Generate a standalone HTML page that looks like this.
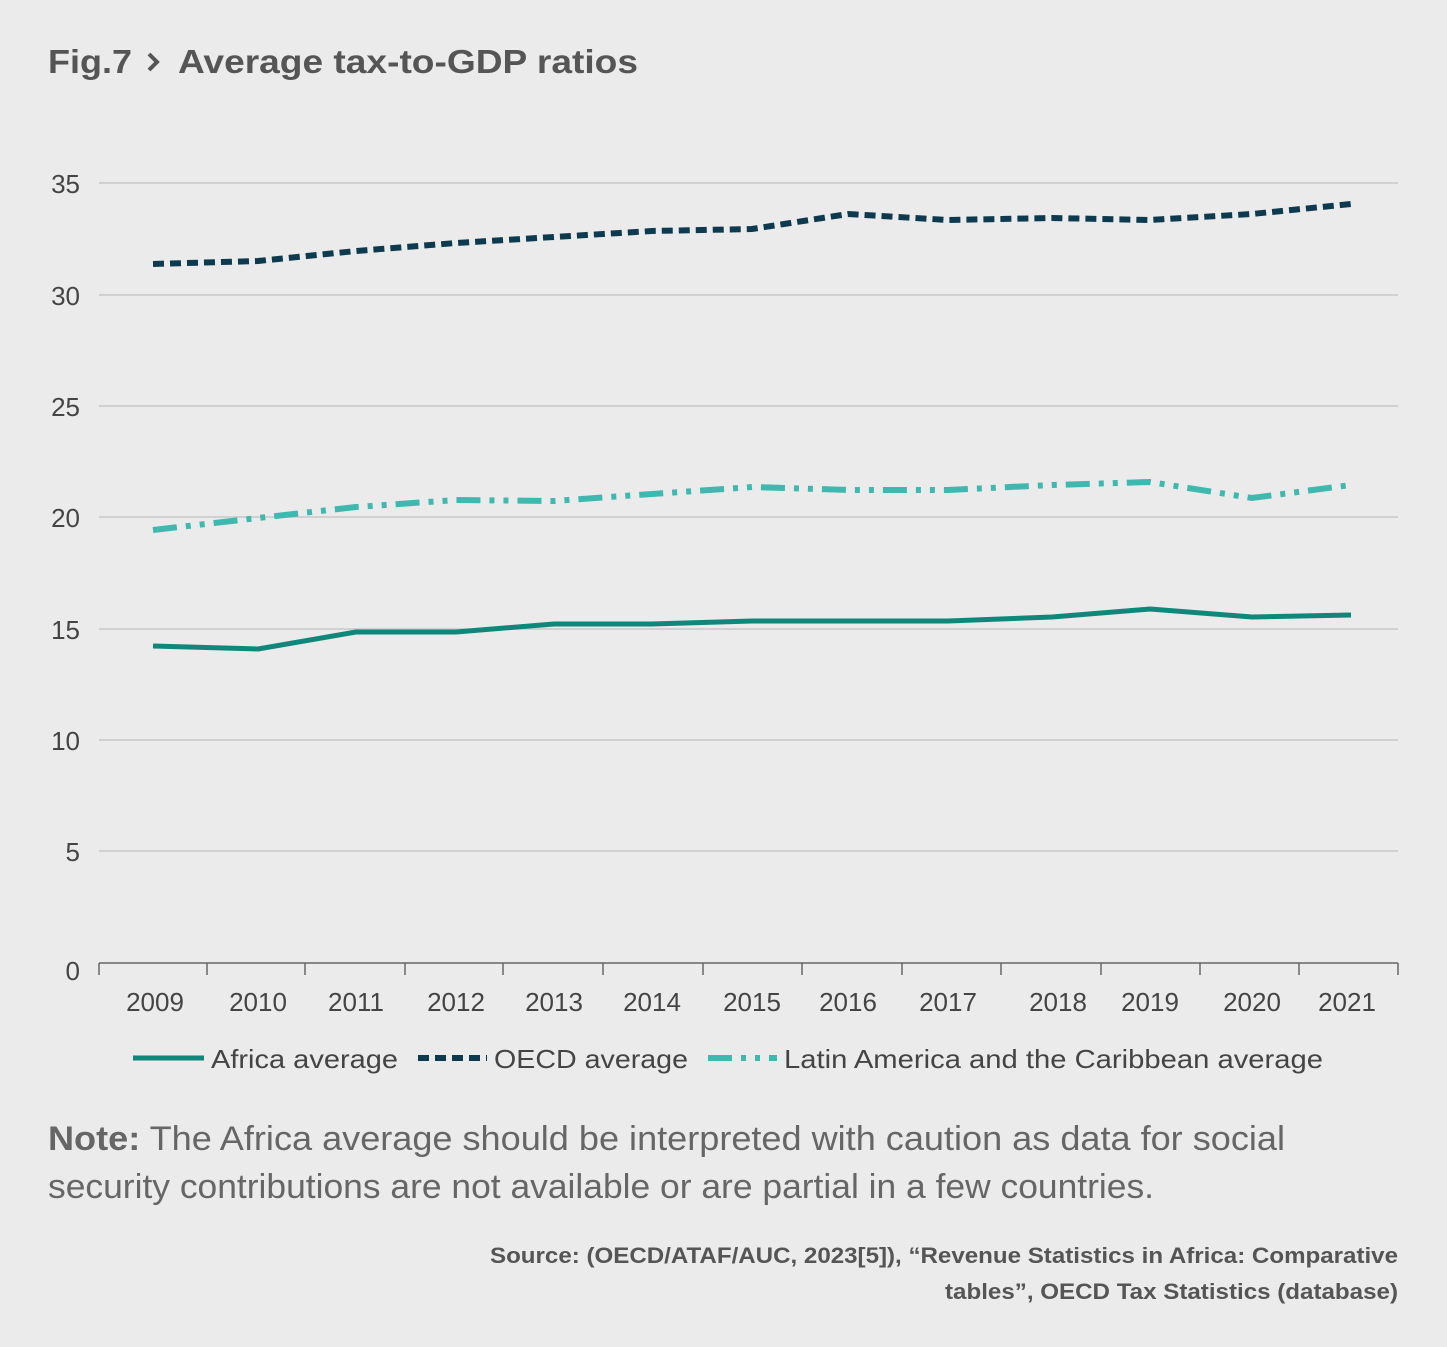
<!DOCTYPE html>
<html><head><meta charset="utf-8"><style>
html,body{margin:0;padding:0;background:#ebebeb;}
body{width:1447px;height:1347px;overflow:hidden;font-family:"Liberation Sans",Arial,sans-serif;}
</style></head><body>
<svg width="1447" height="1347" viewBox="0 0 1447 1347" xmlns="http://www.w3.org/2000/svg" style="position:absolute;left:0;top:0" font-family="Liberation Sans, Arial, sans-serif">
<rect width="1447" height="1347" fill="#ebebeb"/>
<text x="48" y="73" font-size="33" font-weight="bold" fill="#555" textLength="84" lengthAdjust="spacingAndGlyphs">Fig.7</text>
<path d="M149 54 L157 62 L149 70" fill="none" stroke="#555" stroke-width="4"/>
<text x="178" y="73" font-size="33" font-weight="bold" fill="#555" textLength="460" lengthAdjust="spacingAndGlyphs">Average tax-to-GDP ratios</text>
<g stroke="#c8c8c8" stroke-width="1.5">
<line x1="99" x2="1398" y1="183" y2="183"/>
<line x1="99" x2="1398" y1="295" y2="295"/>
<line x1="99" x2="1398" y1="406" y2="406"/>
<line x1="99" x2="1398" y1="517" y2="517"/>
<line x1="99" x2="1398" y1="629" y2="629"/>
<line x1="99" x2="1398" y1="740" y2="740"/>
<line x1="99" x2="1398" y1="851" y2="851"/>
</g>
<g stroke="#666" stroke-width="1.5">
<line x1="99" x2="1398" y1="963" y2="963"/>
<line x1="99" x2="99" y1="963" y2="975"/><line x1="207" x2="207" y1="963" y2="975"/><line x1="305" x2="305" y1="963" y2="975"/><line x1="405" x2="405" y1="963" y2="975"/><line x1="503" x2="503" y1="963" y2="975"/><line x1="603" x2="603" y1="963" y2="975"/><line x1="703" x2="703" y1="963" y2="975"/><line x1="802" x2="802" y1="963" y2="975"/><line x1="902" x2="902" y1="963" y2="975"/><line x1="1001" x2="1001" y1="963" y2="975"/><line x1="1101" x2="1101" y1="963" y2="975"/><line x1="1200" x2="1200" y1="963" y2="975"/><line x1="1299" x2="1299" y1="963" y2="975"/><line x1="1398" x2="1398" y1="963" y2="975"/>
</g>
<g font-size="26" fill="#444" text-anchor="end">
<text x="80" y="193">35</text><text x="80" y="305">30</text><text x="80" y="416">25</text><text x="80" y="527">20</text><text x="80" y="639">15</text><text x="80" y="750">10</text><text x="80" y="861">5</text><text x="80" y="980">0</text>
</g>
<g font-size="26" fill="#444" text-anchor="middle">
<text x="155" y="1011">2009</text><text x="258" y="1011">2010</text><text x="356" y="1011">2011</text><text x="456" y="1011">2012</text><text x="554" y="1011">2013</text><text x="652" y="1011">2014</text><text x="752" y="1011">2015</text><text x="848" y="1011">2016</text><text x="948" y="1011">2017</text><text x="1058" y="1011">2018</text><text x="1150" y="1011">2019</text><text x="1252" y="1011">2020</text><text x="1347" y="1011">2021</text>
</g>
<polyline fill="none" stroke="#0f877a" stroke-width="5" stroke-linejoin="round" points="153,646 258,649 356,632 456,632 554,624 652,624 752,621 848,621 948,621 1052,617 1150,609 1252,617 1351,615"/>
<polyline fill="none" stroke="#0d3a4e" stroke-width="6" stroke-dasharray="11,6" points="153,264 258,261 356,251 456,243 554,237 652,231 752,229 848,214 948,220 1052,218 1150,220 1252,214 1351,204"/>
<polyline fill="none" stroke="#3fb8b0" stroke-width="6" stroke-dasharray="24,9,5,9,5,9" points="153,530 258,518 356,507 456,500 554,501 652,494 752,487 848,490 948,490 1052,485 1150,482 1252,498 1351,485"/>
<line x1="133" x2="204" y1="1058" y2="1058" stroke="#0f877a" stroke-width="5"/>
<text x="211" y="1068" font-size="26" fill="#444" textLength="187" lengthAdjust="spacingAndGlyphs">Africa average</text>
<line x1="418" x2="487" y1="1058" y2="1058" stroke="#0d3a4e" stroke-width="6" stroke-dasharray="11,6"/>
<text x="494" y="1068" font-size="26" fill="#444" textLength="194" lengthAdjust="spacingAndGlyphs">OECD average</text>
<line x1="708" x2="777" y1="1058" y2="1058" stroke="#3fb8b0" stroke-width="6" stroke-dasharray="24,9,5,9,5,9"/>
<text x="784" y="1068" font-size="26" fill="#444" textLength="539" lengthAdjust="spacingAndGlyphs">Latin America and the Caribbean average</text>
<text x="48" y="1150" font-size="34" fill="#666" textLength="1237" lengthAdjust="spacingAndGlyphs"><tspan font-weight="bold">Note:</tspan> The Africa average should be interpreted with caution as data for social</text>
<text x="48" y="1198" font-size="34" fill="#666" textLength="1106" lengthAdjust="spacingAndGlyphs">security contributions are not available or are partial in a few countries.</text>
<text x="1398" y="1263" font-size="22" fill="#555" text-anchor="end" font-weight="bold" textLength="908" lengthAdjust="spacingAndGlyphs">Source: (OECD/ATAF/AUC, 2023[5]), “Revenue Statistics in Africa: Comparative</text>
<text x="1398" y="1299" font-size="22" fill="#555" text-anchor="end" font-weight="bold" textLength="453" lengthAdjust="spacingAndGlyphs">tables”, OECD Tax Statistics (database)</text>
</svg>
</body></html>
